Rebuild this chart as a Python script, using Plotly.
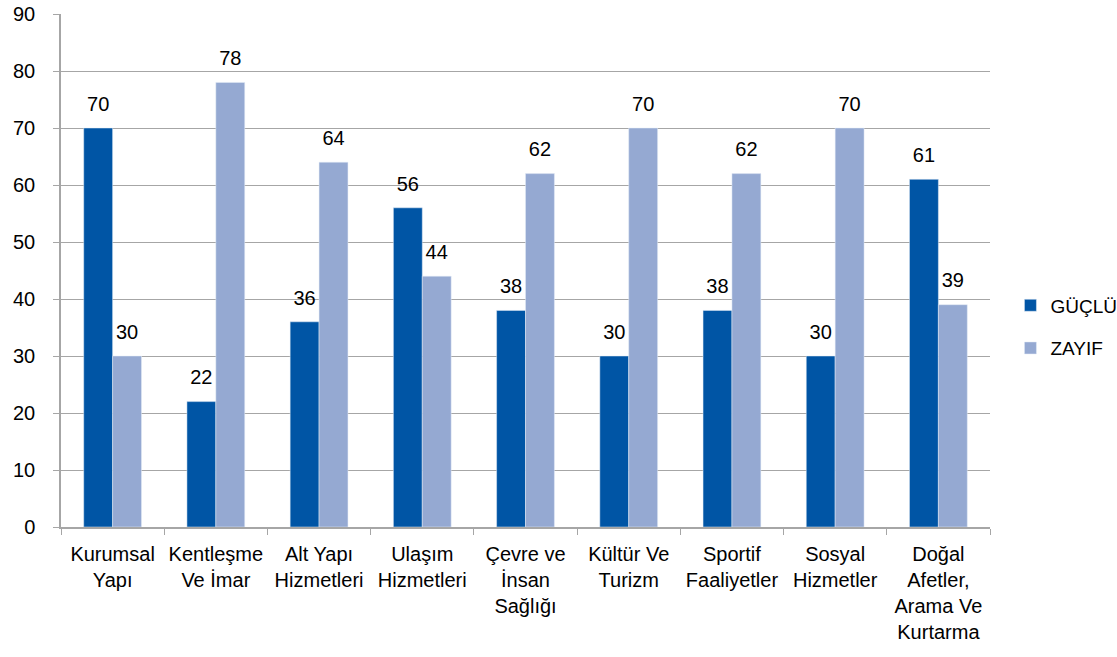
import plotly.graph_objects as go

categories = ["Kurumsal<br>Yapı", "Kentleşme<br>Ve İmar", "Alt Yapı<br>Hizmetleri",
              "Ulaşım<br>Hizmetleri", "Çevre ve<br>İnsan<br>Sağlığı", "Kültür Ve<br>Turizm",
              "Sportif<br>Faaliyetler", "Sosyal<br>Hizmetler",
              "Doğal<br>Afetler,<br>Arama Ve<br>Kurtarma"]
guclu = [70, 22, 36, 56, 38, 30, 38, 30, 61]
zayif = [30, 78, 64, 44, 62, 70, 62, 70, 39]
y_ticks = [0, 10, 20, 30, 40, 50, 60, 70, 80, 90]

FONT = "Liberation Sans, Arial, sans-serif"
FS = 20
FSN = 20

fig = go.Figure()
for name, vals, col, grp in [("GÜÇLÜ", guclu, "#0055A5", "1"), ("ZAYIF", zayif, "#95A9D2", "2")]:
    fig.add_trace(go.Bar(name=name, x=categories, y=vals, marker_color=col,
                         offsetgroup=grp, legendgroup=grp))
for name, vals, grp in [("GÜÇLÜ", guclu, "1"), ("ZAYIF", zayif, "2")]:
    fig.add_trace(go.Scatter(x=categories, y=vals, mode="markers+text", text=vals,
                             textposition="top center", offsetgroup=grp,
                             marker=dict(size=18, opacity=0),
                             textfont=dict(size=FSN, color="black", family=FONT),
                             showlegend=False, cliponaxis=False, hoverinfo="skip"))

fig.update_layout(
    width=1117, height=657,
    margin=dict(l=61, r=127, t=14, b=130, autoexpand=False),
    paper_bgcolor="white", plot_bgcolor="white",
    font=dict(family=FONT, size=FS, color="black"),
    barmode="group", bargap=0.44, bargroupgap=0,
    scattermode="group", scattergap=0.44,
    showlegend=True,
    legend=dict(x=1.022, y=0.39, xanchor="left", yanchor="middle",
                font=dict(size=19), tracegroupgap=15, itemwidth=30),
)
fig.update_yaxes(range=[0, 90], tickvals=y_ticks, showgrid=True, gridcolor="#A6A6A6",
                 gridwidth=1, showline=True, linecolor="#A6A6A6", linewidth=1.5,
                 ticks="outside", ticklen=6, tickcolor="#A6A6A6", zeroline=False,
                 tickfont=dict(size=FSN), ticklabelstandoff=14, automargin=False)
fig.update_xaxes(showline=True, linecolor="#A6A6A6", linewidth=1.5, ticks="outside",
                 tickson="boundaries", ticklen=6, tickcolor="#A6A6A6", tickangle=0,
                 tickfont=dict(size=FS), ticklabelstandoff=8, automargin=False)

fig.write_html("out.html", post_script="document.body.style.margin='0';",
               config={"displayModeBar": False})
